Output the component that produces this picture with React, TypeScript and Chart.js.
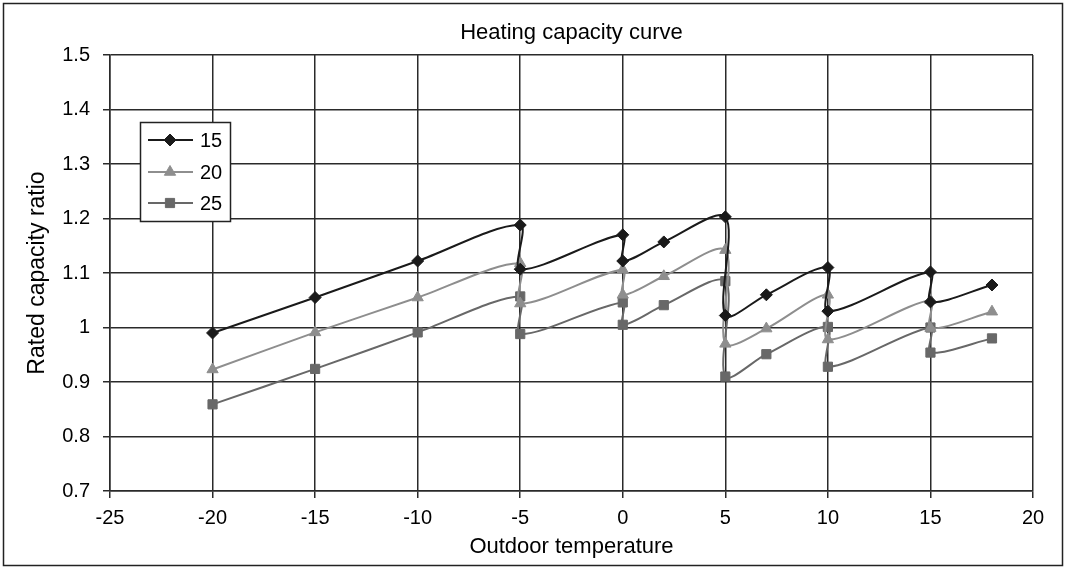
import React, { useEffect, useRef } from "react";
import { Chart, registerables } from "chart.js";

Chart.register(...registerables);

const temps = [-20, -15, -10, -5, -5, 0, 0, 2, 5, 5, 7, 10, 10, 15, 15, 18];
const series15 = [0.99, 1.055, 1.122, 1.188, 1.107, 1.17, 1.122, 1.157, 1.203, 1.022, 1.06, 1.11, 1.03, 1.102, 1.047, 1.078];
const series20 = [0.923, 0.991, 1.055, 1.118, 1.044, 1.106, 1.06, 1.094, 1.142, 0.97, 0.998, 1.06, 0.978, 1.05, 0.999, 1.029];
const series25 = [0.859, 0.924, 0.991, 1.057, 0.988, 1.046, 1.005, 1.041, 1.085, 0.91, 0.951, 1.001, 0.928, 1.0, 0.954, 0.98];
const seriesLabels = ["15", "20", "25"];
const xTicks = [-25, -20, -15, -10, -5, 0, 5, 10, 15, 20];
const yTicks = [0.7, 0.8, 0.9, 1.0, 1.1, 1.2, 1.3, 1.4, 1.5];

const FONT = "'Liberation Sans', Arial, Helvetica, sans-serif";

const colors = ["#1a1a1a", "#8e8e8e", "#686868"];
const shapes = ["rectRot", "triangle", "rect"];
const radii = [6, 6.5, 6.5];

function drawMarker(ctx: CanvasRenderingContext2D, shape: string, r: number, x: number, y: number) {
  ctx.beginPath();
  if (shape === "rectRot") {
    ctx.moveTo(x, y - r);
    ctx.lineTo(x + r, y);
    ctx.lineTo(x, y + r);
    ctx.lineTo(x - r, y);
    ctx.closePath();
  } else if (shape === "triangle") {
    const half = (r * Math.sqrt(3)) / 2;
    ctx.moveTo(x, y - r);
    ctx.lineTo(x + half, y + r / 2);
    ctx.lineTo(x - half, y + r / 2);
    ctx.closePath();
  } else {
    const s = r * Math.SQRT1_2;
    ctx.rect(x - s, y - s, 2 * s, 2 * s);
  }
  ctx.fill();
  ctx.stroke();
}

const frameAndLegend = {
  id: "frameAndLegend",
  afterDraw(chart: any) {
    const ctx = chart.ctx;
    ctx.save();
    ctx.strokeStyle = "#222";
    ctx.lineWidth = 1.5;
    ctx.strokeRect(3.5, 3.5, chart.width - 7, chart.height - 7);
    const bx = 140, by = 122, bw = 90, bh = 99;
    ctx.fillStyle = "#fff";
    ctx.fillRect(bx, by, bw, bh);
    ctx.strokeStyle = "#222";
    ctx.lineWidth = 1.5;
    ctx.strokeRect(bx + 0.5, by + 0.5, bw, bh);
    const rows = [140, 172, 203];
    chart.data.datasets.forEach((ds: any, i: number) => {
      const y = rows[i];
      ctx.strokeStyle = ds.borderColor;
      ctx.lineWidth = 2;
      ctx.beginPath();
      ctx.moveTo(148, y);
      ctx.lineTo(193, y);
      ctx.stroke();
      ctx.fillStyle = ds.backgroundColor;
      ctx.strokeStyle = ds.borderColor;
      ctx.lineWidth = 1;
      drawMarker(ctx, shapes[i], radii[i], 170, y);
      ctx.fillStyle = "#000";
      ctx.font = `20px ${FONT}`;
      ctx.textAlign = "left";
      ctx.textBaseline = "middle";
      ctx.fillText(ds.label, 200, y + 1);
    });
    ctx.restore();
  },
};

export default function App() {
  const ref = useRef<HTMLCanvasElement>(null);
  useEffect(() => {
    if (!ref.current) return;
    const all = [series15, series20, series25];
    const chart = new Chart(ref.current, {
      type: "line",
      data: {
        datasets: all.map((vals, i) => ({
          label: seriesLabels[i],
          data: vals.map((v, j) => ({ x: temps[j], y: v })),
          borderColor: colors[i],
          backgroundColor: colors[i],
          borderWidth: 2,
          pointStyle: shapes[i] as any,
          pointRadius: radii[i],
          pointBorderWidth: 1,
          tension: 0.3,
          fill: false,
        })),
      },
      options: {
        animation: false,
        responsive: false,
        maintainAspectRatio: false,
        layout: { padding: { left: 0, right: 33, top: 0, bottom: 0 } },
        plugins: {
          legend: { display: false },
          tooltip: { enabled: false },
          title: {
            display: true,
            text: "Heating capacity curve",
            fullSize: false,
            color: "#000",
            font: { family: FONT, size: 22, weight: "normal" },
            padding: { top: 19.8, bottom: 8.8 },
          },
        },
        scales: {
          x: {
            type: "linear",
            min: -25,
            max: 20,
            afterBuildTicks: (s: any) => {
              s.ticks = xTicks.map((v) => ({ value: v }));
            },
            afterFit: (s: any) => {
              s.height = 78;
            },
            grid: { color: "#2a2a2a", lineWidth: 1.5, tickLength: 7, drawTicks: true },
            border: { color: "#2a2a2a", width: 1.5 },
            ticks: {
              color: "#000",
              padding: 8,
              font: { family: FONT, size: 20 },
              maxRotation: 0,
              autoSkip: false,
            },
            title: {
              display: true,
              text: "Outdoor temperature",
              color: "#000",
              font: { family: FONT, size: 22 },
              padding: { top: 0, bottom: 8.8 },
            },
          },
          y: {
            type: "linear",
            min: 0.7,
            max: 1.5,
            afterBuildTicks: (s: any) => {
              s.ticks = yTicks.map((v) => ({ value: v }));
            },
            afterFit: (s: any) => {
              s.width = 110;
            },
            grid: { color: "#2a2a2a", lineWidth: 1.5, tickLength: 7 },
            border: { color: "#2a2a2a", width: 1.5 },
            ticks: {
              color: "#000",
              padding: 13,
              font: { family: FONT, size: 20 },
              autoSkip: false,
              callback: (v: any) => {
                const n = Number(v);
                return Math.abs(n - 1) < 1e-9 ? "1" : n.toFixed(1);
              },
            },
            title: {
              display: true,
              text: "Rated capacity ratio",
              color: "#000",
              font: { family: FONT, size: 23 },
              padding: { top: 24, bottom: 0 },
            },
          },
        },
      },
      plugins: [frameAndLegend],
    });
    return () => chart.destroy();
  }, []);
  return (
    <div style={{ position: "fixed", left: 0, top: 0, width: 1066, height: 569, background: "#fff" }}>
      <canvas ref={ref} width={1066} height={569} style={{ display: "block" }} />
    </div>
  );
}
